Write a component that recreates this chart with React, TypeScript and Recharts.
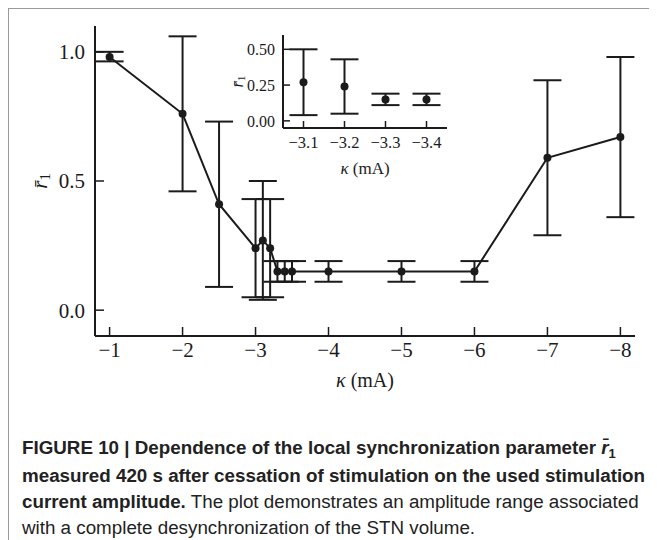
import React from 'react';
import { LineChart, Line, XAxis, YAxis, ErrorBar } from 'recharts';

// stimulation current amplitude (mA) and mean local synchronization r1
const kappa = [-1, -2, -2.5, -3, -3.1, -3.2, -3.3, -3.4, -3.5, -4, -5, -6, -7, -8];
const rMean = [0.98, 0.76, 0.41, 0.24, 0.27, 0.24, 0.15, 0.15, 0.15, 0.15, 0.15, 0.15, 0.59, 0.67];
const rLow = [0.963, 0.46, 0.09, 0.05, 0.04, 0.05, 0.11, 0.11, 0.11, 0.11, 0.11, 0.11, 0.29, 0.36];
const rHigh = [1.0, 1.06, 0.73, 0.43, 0.5, 0.43, 0.19, 0.19, 0.19, 0.19, 0.19, 0.19, 0.89, 0.98];

const mainTicksX = [-1, -2, -3, -4, -5, -6, -7, -8];
const mainTicksY = [0, 0.5, 1];
const insetKappa = [-3.1, -3.2, -3.3, -3.4];
const insetTicksY = [0, 0.25, 0.5];

const rows = kappa.map((k, i) => ({
  k,
  r: rMean[i],
  err: [rMean[i] - rLow[i], rHigh[i] - rMean[i]],
}));
const insetRows = rows.filter((d) => insetKappa.includes(d.k));

const INK = '#1b1b1b';
const SERIF = '"Liberation Serif", "DejaVu Serif", serif';
const axisLine = { stroke: INK, strokeWidth: 2 };
const tickLine = { stroke: INK, strokeWidth: 1.5 };

const minus = (v: number, digits: number) => '\u2212' + Math.abs(v).toFixed(digits);

// rotated r-bar-1 label
const rLabel = (dx: number, size: number) => (props: any) => {
  const vb = props.viewBox;
  const cx = vb.x + dx;
  const cy = vb.y + vb.height / 2;
  return (
    <text
      x={cx}
      y={cy}
      transform={`rotate(-90, ${cx}, ${cy})`}
      textAnchor="middle"
      dominantBaseline="central"
      fontFamily={SERIF}
      fontSize={size}
      fill={INK}
    >
      <tspan fontStyle="italic">r̄</tspan>
      <tspan fontSize={size * 0.7} dy={size * 0.25}>1</tspan>
    </text>
  );
};

const kappaLabel = (dy: number, size: number) => (props: any) => {
  const vb = props.viewBox;
  return (
    <text
      x={vb.x + vb.width / 2}
      y={vb.y + dy}
      textAnchor="middle"
      dominantBaseline="central"
      fontFamily={SERIF}
      fontSize={size}
      fill={INK}
    >
      <tspan fontStyle="italic">κ</tspan>
      <tspan> (mA)</tspan>
    </text>
  );
};

const App: React.FC = () => {
  const tickFont = { fontFamily: SERIF, fill: INK };
  return (
    <div
      style={{
        position: 'relative',
        width: 649,
        height: 532,
        borderTop: '1px solid #9a9a9a',
        borderLeft: '1px solid #9a9a9a',
        boxSizing: 'border-box',
        background: '#fff',
      }}
    >
      {/* main panel */}
      <div style={{ position: 'absolute', left: 0, top: 0 }}>
        <LineChart width={640} height={390} data={rows} margin={{ top: 17, right: 14, bottom: 3, left: 6 }}>
          <XAxis
            dataKey="k"
            type="number"
            domain={[-8.2, -0.8]}
            reversed
            ticks={mainTicksX}
            tickFormatter={(v) => minus(v, 0)}
            height={60}
            tickSize={-9}
            tickMargin={15}
            axisLine={axisLine}
            tickLine={tickLine}
            tick={{ ...tickFont, fontSize: 21 }}
            label={kappaLabel(44, 20)}
          />
          <XAxis
            xAxisId="top"
            orientation="top"
            type="number"
            domain={[-8.2, -0.8]}
            reversed
            ticks={mainTicksX}
            height={0}
            mirror
            tickSize={9}
            tick={false}
            axisLine={axisLine}
            tickLine={tickLine}
          />
          <YAxis
            type="number"
            domain={[-0.1, 1.1]}
            ticks={mainTicksY}
            tickFormatter={(v) => v.toFixed(1)}
            width={80}
            tickSize={-9}
            tickMargin={19}
            axisLine={axisLine}
            tickLine={tickLine}
            tick={{ ...tickFont, fontSize: 21 }}
            label={rLabel(25, 21)}
          />
          <YAxis
            yAxisId="right"
            orientation="right"
            type="number"
            domain={[-0.1, 1.1]}
            ticks={mainTicksY}
            width={0}
            mirror
            tickSize={9}
            tick={false}
            axisLine={axisLine}
            tickLine={tickLine}
          />
          <Line
            dataKey="r"
            type="linear"
            stroke={INK}
            strokeWidth={2}
            dot={{ r: 4, fill: INK, stroke: INK, strokeWidth: 0 }}
            isAnimationActive={false}
          >
            <ErrorBar dataKey="err" direction="y" width={14} stroke={INK} strokeWidth={2} />
          </Line>
        </LineChart>
      </div>

      {/* inset: zoom on -3.1 .. -3.4 mA */}
      <div style={{ position: 'absolute', left: 194, top: 16 }}>
        <LineChart width={250} height={153} data={insetRows} margin={{ top: 10, right: 6, bottom: 0, left: 10 }}>
          <XAxis
            dataKey="k"
            type="number"
            domain={[-3.45, -3.05]}
            reversed
            ticks={insetKappa}
            tickFormatter={(v) => minus(v, 1)}
            height={50}
            tickSize={-7}
            tickMargin={15}
            axisLine={axisLine}
            tickLine={tickLine}
            tick={{ ...tickFont, fontSize: 16.5 }}
            label={kappaLabel(40, 17)}
          />
          <XAxis
            xAxisId="top"
            orientation="top"
            type="number"
            domain={[-3.45, -3.05]}
            reversed
            ticks={insetKappa}
            height={0}
            mirror
            tickSize={7}
            tick={false}
            axisLine={axisLine}
            tickLine={tickLine}
          />
          <YAxis
            type="number"
            domain={[-0.05, 0.6]}
            ticks={insetTicksY}
            tickFormatter={(v) => v.toFixed(2)}
            width={70}
            tickSize={-7}
            tickMargin={15}
            axisLine={axisLine}
            tickLine={tickLine}
            tick={{ ...tickFont, fontSize: 16 }}
            label={rLabel(24, 16)}
          />
          <YAxis
            yAxisId="right"
            orientation="right"
            type="number"
            domain={[-0.05, 0.6]}
            ticks={insetTicksY}
            width={0}
            mirror
            tickSize={7}
            tick={false}
            axisLine={axisLine}
            tickLine={tickLine}
          />
          <Line
            dataKey="r"
            type="linear"
            stroke="none"
            dot={{ r: 4, fill: INK, stroke: INK, strokeWidth: 0 }}
            isAnimationActive={false}
          >
            <ErrorBar dataKey="err" direction="y" width={14} stroke={INK} strokeWidth={2} />
          </Line>
        </LineChart>
      </div>

      {/* caption */}
      <div
        style={{
          position: 'absolute',
          left: 13,
          top: 426,
          fontFamily: '"Liberation Sans", Arial, sans-serif',
          fontSize: 18.8,
          lineHeight: '26px',
          color: '#222',
          whiteSpace: 'nowrap',
        }}
      >
        <div>
          <b>
            FIGURE 10 | Dependence of the local synchronization parameter <i>r̄</i>
            <span style={{ fontSize: 13, position: 'relative', top: 4 }}>1</span>
          </b>
        </div>
        <div>
          <b>measured 420 s after cessation of stimulation on the used stimulation</b>
        </div>
        <div>
          <b>current amplitude.</b> The plot demonstrates an amplitude range associated
        </div>
        <div>with a complete desynchronization of the STN volume.</div>
      </div>
    </div>
  );
};

export default App;
